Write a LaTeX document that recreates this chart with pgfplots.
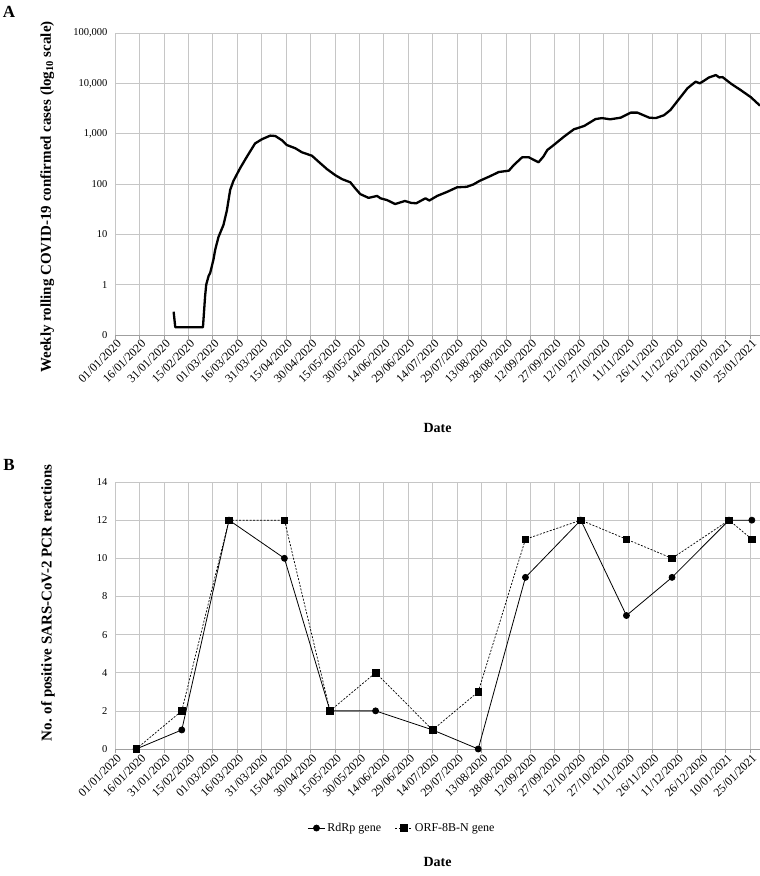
\documentclass[border=0pt]{standalone}
\usepackage{pgfplots}
\pgfplotsset{compat=1.18}
\usepackage{fontspec}
\setmainfont{Liberation Serif}

\pgfplotsset{
  mybase/.style={
    scale only axis,
    width=645pt,
    xmin=0, xmax=396,
    xtick={0,15,...,390},
    xticklabels={01/01/2020,16/01/2020,31/01/2020,15/02/2020,01/03/2020,16/03/2020,31/03/2020,15/04/2020,30/04/2020,15/05/2020,30/05/2020,14/06/2020,29/06/2020,14/07/2020,29/07/2020,13/08/2020,28/08/2020,12/09/2020,27/09/2020,12/10/2020,27/10/2020,11/11/2020,26/11/2020,11/12/2020,26/12/2020,10/01/2021,25/01/2021},
    axis x line*=bottom,
    axis y line*=left,
    x axis line style={draw=gray!75, line width=0.8pt},
    y axis line style={draw=none},
    ytick style={draw=none},
    xtick style={draw=gray!75, line width=0.7pt},
    tick align=outside,
    major tick length=4pt,
    grid=major,
    major grid style={draw=gray!45, line width=0.7pt},
    /pgf/number format/assume math mode=true,
    xticklabel style={rotate=45, anchor=east, font=\fontsize{12}{13}\selectfont, inner sep=1pt, yshift=-5pt, xshift=2pt},
    yticklabel style={font=\fontsize{10.5}{12}\selectfont},
    xlabel={\textbf{Date}},
    xlabel style={font=\fontsize{14}{16}\selectfont, anchor=center},
    ylabel style={font=\fontsize{15}{17}\selectfont\bfseries, anchor=center, rotate=0},
  }
}

\begin{document}
\begin{tikzpicture}
\useasboundingbox (0pt,0pt) rectangle (760pt,-876pt);

\node[font=\fontsize{17}{19}\selectfont\bfseries] at (9pt,-12pt) {A};
\node[font=\fontsize{17}{19}\selectfont\bfseries] at (9pt,-465pt) {B};

% Panel A
\begin{axis}[
  mybase,
  at={(115pt,-335pt)}, anchor=south west,
  height=302pt,
  ymode=log, log basis y=10,
  ymin=0.1, ymax=100000,
  ytick={0.1,1,10,100,1000,10000,100000},
  yticklabels={0,1,10,100,{1,000},{10,000},{100,000}},
  yminorticks=false,
  ylabel={Weekly rolling COVID-19 confirmed cases (log\textsubscript{10} scale)},
  ylabel style={at={(axis description cs:-0.105,0.457)}},
  xlabel style={at={(axis description cs:0.5,-0.308)}},
]
\addplot[black, line width=2.3pt, line join=round] coordinates {
(36,0.29)(37,0.143)(54,0.143)(55.3,0.58)(56,1.0)(57.5,1.5)(58.4,1.7)(60.4,3.1)(61.5,4.9)
(63.5,8.8)(66.6,15.4)(68.7,30)(70.7,76)(72.7,115)(76.8,206)(81,350)(86,640)(90.2,775)
(95.3,915)(98.4,900)(102.5,740)(105.5,595)(110.7,513)(114.8,426)(120.9,365)(125,277)
(130.2,197)(135.2,150)(139.4,125)(144.5,108)(147.5,82)(150.6,63)(155.7,53)(160.9,58)
(163,52)(167,48)(172,40)(178,46)(182,42)(185,41.5)(190.6,52)(193,47)(197.8,58)(204,70)
(210,86)(216,88)(220,98)(224,116)(230.5,144)(235.6,173)(241.8,184)(244.9,239)(250,340)
(254,340)(260,270)(263,350)(265.4,473)(269.4,596)(275.6,870)(281.7,1220)(288,1420)
(295,1950)(299,2040)(304,1930)(310.5,2080)(316.6,2620)(320.7,2620)(328,2080)(332,2040)
(337,2320)(341,2950)(346,4750)(351.5,8000)(356.5,10800)(359,10000)(361.7,11300)
(364.7,13100)(368.9,14600)(371,13100)(373,13300)(378.3,9800)(384,7400)(390.4,5300)(396,3600)
};
\end{axis}

% Panel B
\begin{axis}[
  mybase,
  at={(115pt,-749pt)}, anchor=south west,
  height=267pt,
  ymin=0, ymax=14,
  ytick={0,2,...,14},
  clip=false,
  ylabel={No. of positive SARS-CoV-2 PCR reactions},
  ylabel style={at={(axis description cs:-0.104,0.547)}},
  xlabel style={at={(axis description cs:0.5,-0.423)}},
  legend style={at={(axis description cs:0.445,-0.296)}, anchor=center, draw=none,
    font=\fontsize{12}{14}\selectfont, legend columns=2,
    /tikz/every even column/.append style={column sep=12pt}},
]
\addplot[black, line width=0.8pt, mark=*, mark size=3pt] coordinates {
(13,0)(41,1)(70,12)(104,10)(132,2)(160,2)(195,1)(223,0)(252,9)(286,12)(314,7)(342,9)(377,12)(391,12)
};
\addlegendentry{RdRp gene}
\addplot[black, line width=0.7pt, dash pattern=on 2pt off 1.5pt, mark=square*, mark size=3.3pt, mark options={solid}] coordinates {
(13,0)(41,2)(70,12)(104,12)(132,2)(160,4)(195,1)(223,3)(252,11)(286,12)(314,11)(342,10)(377,12)(391,11)
};
\addlegendentry{ORF-8B-N gene}
\end{axis}
\end{tikzpicture}
\end{document}
